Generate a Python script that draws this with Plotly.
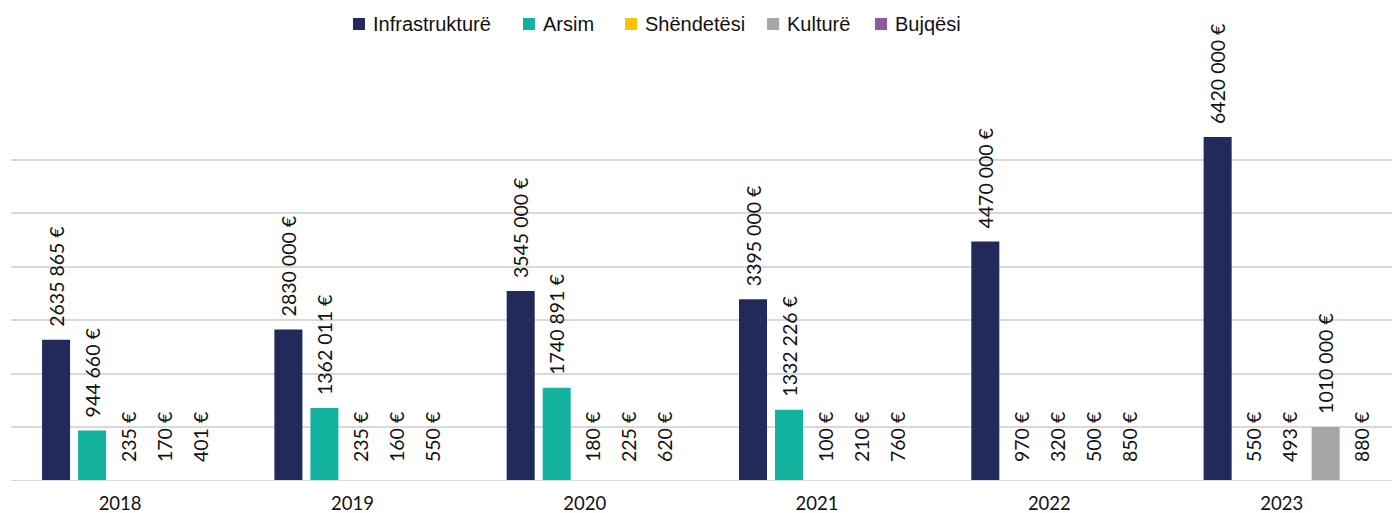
import plotly.graph_objects as go

years = ["2018", "2019", "2020", "2021", "2022", "2023"]
infrastruktura = [2635865, 2830000, 3545000, 3395000, 4470000, 6420000]
arsim = [944660, 1362011, 1740891, 1332226, 970, 550]
shendetesi = [235, 235, 180, 100, 320, 493]
kultura = [170, 160, 225, 210, 500, 1010000]
bujqesi = [401, 550, 620, 760, 850, 880]

series_names = ["Infrastrukturë", "Arsim", "Shëndetësi", "Kulturë", "Bujqësi"]
series_values = [infrastruktura, arsim, shendetesi, kultura, bujqesi]
colors = ["#222A5C", "#13B3A0", "#FFC20E", "#A6A6A6", "#8E5AA0"]

LABEL_FONT = "Lato, sans-serif"
LEGEND_FONT = "Liberation Sans, Arial, sans-serif"
NBSP = "\u00a0"

# legend layout (pixel offsets from the plot's left edge)
legend_offsets = [342, 512, 614, 756, 864]


def fmt(v):
    if v >= 1000:
        s = f"{v // 1000} {v % 1000:03d} €"
    else:
        s = f"{v} €"
    pad = NBSP * (2 if v >= 100000 else 3)
    return pad + s


fig = go.Figure()
for name, vals, col in zip(series_names, series_values, colors):
    fig.add_trace(go.Bar(
        name=name, x=years, y=vals,
        marker=dict(color=col, line=dict(width=0)),
        text=[fmt(v) for v in vals],
        textposition="outside",
        textangle=-90,
        constraintext="none",
        cliponaxis=False,
        textfont=dict(family=LABEL_FONT, size=19.5, color="#111111"),
        showlegend=False,
    ))

# baseline drawn over the bars so near-zero bars stay hidden
fig.add_shape(
    type="line", xref="paper", yref="y", x0=0, x1=1, y0=0, y1=0,
    line=dict(color="#D9D9D9", width=2), layer="above",
)

# manual legend (square + name), placed above the plot area
for name, col, off in zip(series_names, colors, legend_offsets):
    fig.add_shape(
        type="rect", xref="paper", yref="paper",
        xsizemode="pixel", ysizemode="pixel",
        xanchor=0, yanchor=1,
        x0=off, x1=off + 12, y0=76, y1=88,
        fillcolor=col, line=dict(width=0), layer="above",
    )
    fig.add_annotation(
        text=name, xref="paper", yref="paper", x=0, y=1,
        xshift=off + 18, yshift=82, xanchor="left", yanchor="middle",
        showarrow=False,
        font=dict(family=LEGEND_FONT, size=20, color="#111111"),
    )

fig.update_layout(
    width=1392, height=505,
    barmode="group", bargap=0.225, bargroupgap=0.222,
    plot_bgcolor="white", paper_bgcolor="white",
    margin=dict(l=3, r=0, t=98, b=32, autoexpand=False),
    font=dict(family=LABEL_FONT, size=18, color="#111111"),
    showlegend=False,
)
fig.update_xaxes(
    type="category", range=[-0.504, 5.475], showgrid=False, showline=False,
    ticks="", tickfont=dict(family=LABEL_FONT, size=18.5, color="#111111"),
    ticklabelshift=-8, ticklabelstandoff=9, automargin=False,
)
fig.update_yaxes(
    range=[0, 7000000], dtick=1000000, showticklabels=False,
    showgrid=True, gridcolor="#D9D9D9", gridwidth=2,
    zeroline=False, showline=False,
    automargin=False,
)

fig.write_html("out.html")
